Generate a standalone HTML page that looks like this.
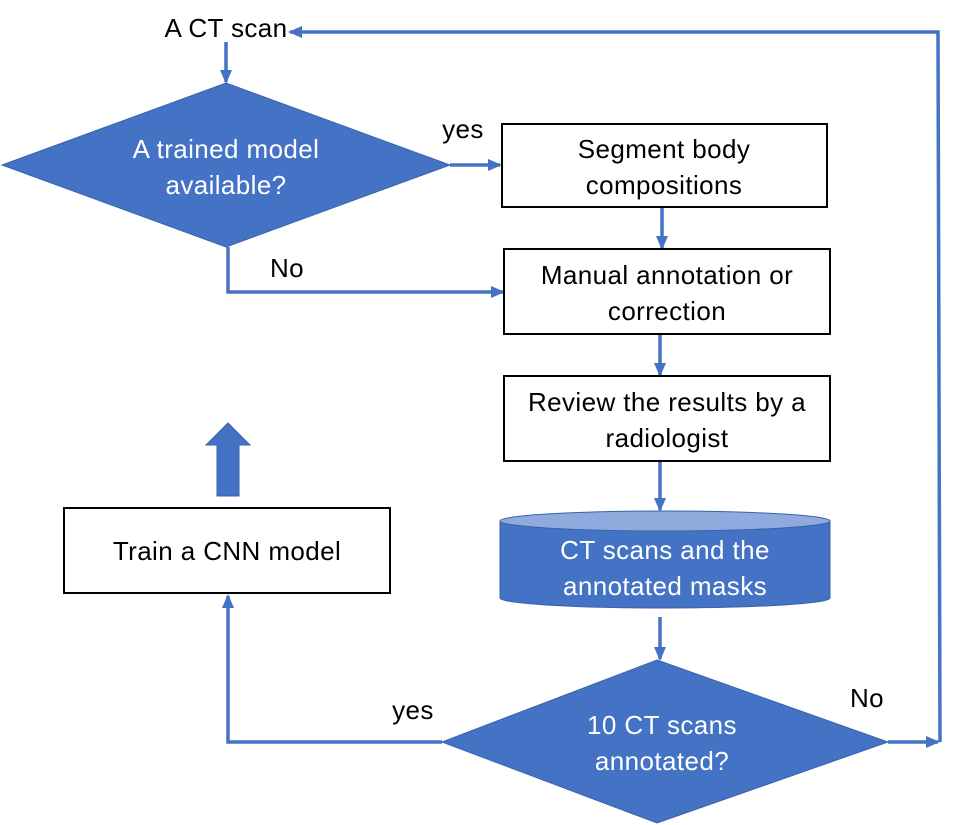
<!DOCTYPE html>
<html><head><meta charset="utf-8"><style>
html,body{margin:0;padding:0;background:#fff}
svg{display:block}
text{font-family:"Liberation Sans",sans-serif;font-size:26px;letter-spacing:0.4px}
</style></head><body>
<svg width="961" height="825" viewBox="0 0 961 825">
<defs>
<marker id="a" markerWidth="14" markerHeight="14" refX="12" refY="7" orient="auto" markerUnits="userSpaceOnUse"><path d="M0,1 L14,7 L0,13 Z" fill="#4472C4"/></marker>
</defs>
<g stroke="#4472C4" stroke-width="3.5" fill="none">
<line x1="226" y1="42" x2="226" y2="82" marker-end="url(#a)"/>
<line x1="450" y1="165" x2="500" y2="165" marker-end="url(#a)"/>
<polyline points="228,247 228,292 503,292" marker-end="url(#a)"/>
<line x1="662" y1="207" x2="662" y2="248" marker-end="url(#a)"/>
<line x1="660" y1="334" x2="660" y2="375" marker-end="url(#a)"/>
<line x1="660" y1="461" x2="660" y2="510" marker-end="url(#a)"/>
<line x1="660" y1="617" x2="660" y2="659" marker-end="url(#a)"/>
<polyline points="888,742 938,742" marker-end="url(#a)"/>
<polyline points="940,742 938,32 290,32" marker-end="url(#a)"/>
<polyline points="442,742 228,742 228,596" marker-end="url(#a)"/>
</g>
<polygon points="226,83 450,165 226,247 2,165" fill="#4472C4" stroke="#3A62AC" stroke-width="1"/>
<polygon points="657,660 888,742 657,823 442,742" fill="#4472C4" stroke="#3A62AC" stroke-width="1"/>
<path d="M500,521 L500,598 A165,10 0 0 0 830,598 L830,521 Z" fill="#4472C4" stroke="#3A62AC"/>
<ellipse cx="665" cy="521" rx="165" ry="10" fill="#8FAADC" stroke="#3A62AC"/>
<polygon points="228,423 250,445 239,445 239,496 217,496 217,445 206,445" fill="#4472C4" stroke="#3A62AC"/>
<g fill="#fff" stroke="#000" stroke-width="2">
<rect x="502" y="124" width="325" height="83"/>
<rect x="504" y="249" width="326" height="85"/>
<rect x="504" y="376" width="326" height="85"/>
<rect x="64" y="508" width="326" height="85"/>
</g>
<g text-anchor="middle" fill="#000">
<text x="226" y="37">A CT scan</text>
<text x="664" y="158">Segment body</text>
<text x="664" y="194">compositions</text>
<text x="667" y="284">Manual annotation or</text>
<text x="667" y="320">correction</text>
<text x="667" y="411">Review the results by a</text>
<text x="667" y="447">radiologist</text>
<text x="227" y="560">Train a CNN model</text>
<text x="463" y="138">yes</text>
<text x="287" y="277">No</text>
<text x="413" y="719">yes</text>
<text x="867" y="707">No</text>
</g>
<g text-anchor="middle" fill="#fff">
<text x="226" y="158">A trained model</text>
<text x="226" y="194">available?</text>
<text x="665" y="559">CT scans and the</text>
<text x="665" y="595">annotated masks</text>
<text x="662" y="734">10 CT scans</text>
<text x="662" y="770">annotated?</text>
</g>
</svg>
</body></html>
